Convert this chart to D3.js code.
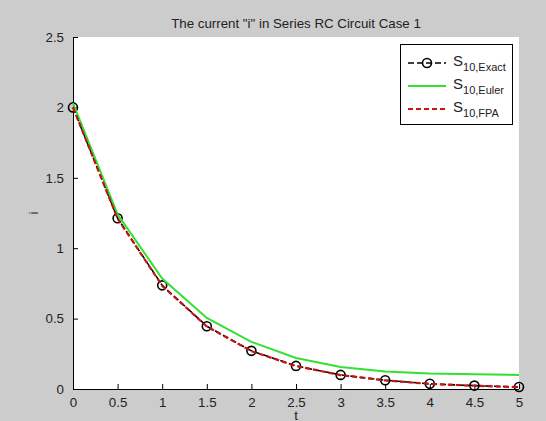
<!DOCTYPE html>
<html>
<head>
<meta charset="utf-8">
<script src="https://cdn.jsdelivr.net/npm/d3@7"></script>
<style>
  html, body { margin: 0; padding: 0; background: #cccccc; }
  svg { display: block; font-family: "Liberation Sans", Arial, sans-serif; }
</style>
</head>
<body>
<div id="chart"></div>
<script>
// values
var tValues = [0, 0.5, 1, 1.5, 2, 2.5, 3, 3.5, 4, 4.5, 5];
var exactValues = [2.0, 1.213, 0.736, 0.446, 0.271, 0.164, 0.100, 0.062, 0.037, 0.024, 0.014];
var eulerValues = [2.03, 1.24, 0.785, 0.505, 0.335, 0.22, 0.157, 0.125, 0.11, 0.105, 0.10];
var fpaValues = [2.0, 1.21, 0.733, 0.444, 0.269, 0.163, 0.099, 0.061, 0.036, 0.023, 0.013];
var xTicks = [0, 0.5, 1, 1.5, 2, 2.5, 3, 3.5, 4, 4.5, 5];
var yTicks = [0, 0.5, 1, 1.5, 2, 2.5];
var legendNames = ["Exact", "Euler", "FPA"];

var width = 546, height = 421;
// plot area edges (note: "top" is reserved on window, so use other names)
var plotLeft = 73, plotRight = 519, plotTop = 37, plotBottom = 389;

var svg = d3.select("#chart").append("svg")
    .attr("width", width)
    .attr("height", height);

svg.append("rect")
    .attr("width", width).attr("height", height)
    .attr("fill", "#cccccc");

var x = d3.scaleLinear().domain([0, 5]).range([plotLeft, plotRight]);
var y = d3.scaleLinear().domain([0, 2.5]).range([plotBottom, plotTop]);

// white plot area
svg.append("rect")
    .attr("x", plotLeft).attr("y", plotTop)
    .attr("width", plotRight - plotLeft).attr("height", plotBottom - plotTop)
    .attr("fill", "#ffffff");

// axes, ticks pointing inward like matlab
var xAxis = d3.axisBottom(x).tickValues(xTicks).tickSize(-5).tickPadding(9)
    .tickFormat(function (d) { return String(d); });
var yAxis = d3.axisLeft(y).tickValues(yTicks).tickSize(-5).tickPadding(9)
    .tickFormat(function (d) { return String(d); });

var gx = svg.append("g").attr("transform", "translate(0," + plotBottom + ")").call(xAxis);
var gy = svg.append("g").attr("transform", "translate(" + plotLeft + ",0)").call(yAxis);

[gx, gy].forEach(function (g) {
  g.select(".domain").attr("stroke", "#000").attr("stroke-width", 1);
  g.selectAll(".tick line").attr("stroke", "#000");
  g.selectAll(".tick text")
    .attr("fill", "#222")
    .style("font-size", "13.3px")
    .style("font-family", "Liberation Sans, Arial, sans-serif");
});
gy.select(".domain").attr("d", "M0.5," + plotTop + "V" + plotBottom);
gx.select(".domain").attr("d", "M" + plotLeft + ",0.5H" + plotRight);

// title and labels
svg.append("text")
    .attr("x", (plotLeft + plotRight) / 2).attr("y", 28)
    .attr("text-anchor", "middle")
    .style("font-size", "13.3px")
    .attr("fill", "#222")
    .text("The current \"i\" in Series RC Circuit Case 1");

svg.append("text")
    .attr("x", (plotLeft + plotRight) / 2).attr("y", 420)
    .attr("text-anchor", "middle")
    .style("font-size", "13.3px")
    .attr("fill", "#222")
    .text("t");

svg.append("text")
    .attr("transform", "translate(38," + ((plotTop + plotBottom) / 2) + ") rotate(-90)")
    .attr("text-anchor", "middle")
    .style("font-size", "13.3px")
    .attr("fill", "#222")
    .text("i");

var line = d3.line()
    .x(function (d) { return x(d[0]); })
    .y(function (d) { return y(d[1]); });

function pairs(vals) {
  return tValues.map(function (t, i) { return [t, vals[i]]; });
}

var plot = svg.append("g");

// exact: black dashed with circles
plot.append("path")
    .datum(pairs(exactValues))
    .attr("d", line)
    .attr("fill", "none")
    .attr("stroke", "#000")
    .attr("stroke-width", 1.6)
    .attr("stroke-dasharray", "6,3");

plot.selectAll("circle.exact")
    .data(pairs(exactValues))
    .enter().append("circle")
    .attr("class", "exact")
    .attr("cx", function (d) { return x(d[0]); })
    .attr("cy", function (d) { return y(d[1]); })
    .attr("r", 4.5)
    .attr("fill", "none")
    .attr("stroke", "#000")
    .attr("stroke-width", 1.6);

// euler: green solid
plot.append("path")
    .datum(pairs(eulerValues))
    .attr("d", line)
    .attr("fill", "none")
    .attr("stroke", "#33e033")
    .attr("stroke-width", 2);

// fpa: red dashed
plot.append("path")
    .datum(pairs(fpaValues))
    .attr("d", line)
    .attr("fill", "none")
    .attr("stroke", "#cc1111")
    .attr("stroke-width", 2.2)
    .attr("stroke-dasharray", "5,3");

// legend
var lg = svg.append("g");
lg.append("rect")
    .attr("x", 400.5).attr("y", 44.5)
    .attr("width", 112).attr("height", 80)
    .attr("fill", "#fff")
    .attr("stroke", "#000")
    .attr("stroke-width", 1);

var legendStyles = [
  { color: "#000", dash: "6,3", w: 1.6, marker: true },
  { color: "#33e033", dash: null, w: 2, marker: false },
  { color: "#cc1111", dash: "5,3", w: 2.2, marker: false }
];

legendNames.forEach(function (name, i) {
  var ly = 63 + i * 23;
  var st = legendStyles[i];
  lg.append("line")
    .attr("x1", 408).attr("x2", 446)
    .attr("y1", ly).attr("y2", ly)
    .attr("stroke", st.color)
    .attr("stroke-width", st.w)
    .attr("stroke-dasharray", st.dash);
  if (st.marker) {
    lg.append("circle")
      .attr("cx", 427).attr("cy", ly).attr("r", 4.5)
      .attr("fill", "none").attr("stroke", "#000").attr("stroke-width", 1.6);
  }
  var t = lg.append("text")
    .attr("x", 453).attr("y", ly + 3)
    .attr("fill", "#222")
    .style("font-size", "15px");
  t.append("tspan").text("S");
  t.append("tspan")
    .attr("dy", 5)
    .style("font-size", "11px")
    .text("10," + name);
});
</script>
</body>
</html>
